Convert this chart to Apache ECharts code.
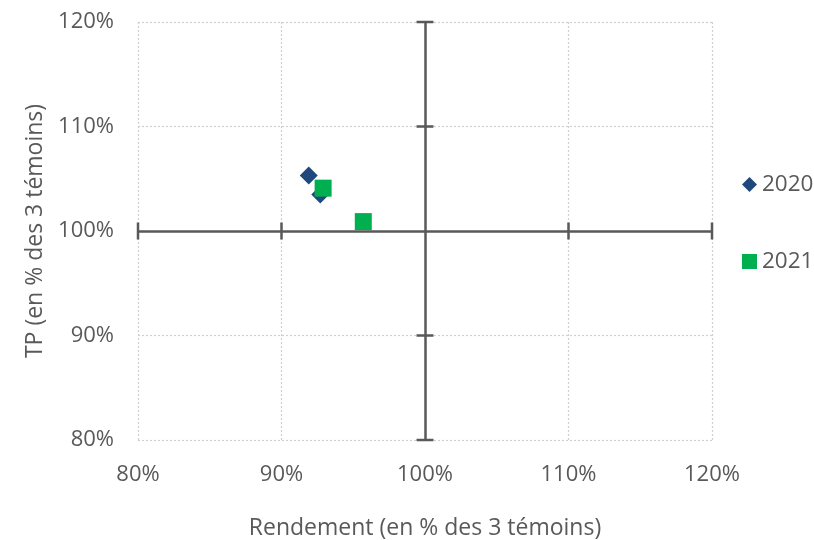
<!DOCTYPE html>
<html><head><meta charset="utf-8">
<script src="https://cdn.jsdelivr.net/npm/echarts@6/dist/echarts.min.js"></script>
<style>html,body{margin:0;padding:0;background:#fff}#c{width:814px;height:540px}</style>
</head><body><div id="c"></div>
<script>
const series2020 = [[91.9, 105.3], [92.7, 103.5]];
const series2021 = [[92.9, 104.1], [95.7, 100.9]];
const xTicks = [80, 90, 110, 120];
const yTicks = [80, 90, 110, 120];
const crossX = 100, crossY = 100;
const xName = 'Rendement (en % des 3 témoins)';
const yName = 'TP (en % des 3 témoins)';

const axisColor = '#595959';
const font = 'Open Sans';
const tickData = xTicks.map(v => ({value: [v, crossY], symbolSize: [2.5, 17]}))
  .concat(yTicks.map(v => ({value: [crossX, v], symbolSize: [17, 2.5]})));

const chart = echarts.init(document.getElementById('c'));
const axisCommon = {
  type: 'value', min: 80, max: 120, interval: 10,
  axisLine: {show: false}, axisTick: {show: false},
  splitLine: {show: true, lineStyle: {color: '#d0d0d0', type: [2, 2], width: 1.2}},
  axisLabel: {formatter: '{value}%', color: axisColor, fontSize: 22, fontFamily: font},
  nameLocation: 'middle',
  nameTextStyle: {color: axisColor, fontSize: 23, fontFamily: font}
};
chart.setOption({
  animation: false,
  grid: {left: 138, right: 102, top: 22, bottom: 100, containLabel: false, outerBoundsMode: 'none'},
  legend: {
    orient: 'vertical', left: 737, top: 168, itemGap: 54,
    itemWidth: 15, itemHeight: 15, itemStyle: {opacity: 1},
    textStyle: {color: axisColor, fontSize: 22.5, fontFamily: font},
    data: [{name: '2020', icon: 'diamond'}, {name: '2021', icon: 'rect'}]
  },
  xAxis: Object.assign({}, axisCommon, {name: xName, nameGap: 77,
    axisLabel: Object.assign({}, axisCommon.axisLabel, {margin: 24})}),
  yAxis: Object.assign({}, axisCommon, {name: yName, nameGap: 82,
    axisLabel: Object.assign({}, axisCommon.axisLabel, {margin: 24})}),
  series: [
    {
      name: 'axes', type: 'scatter', silent: true, symbol: 'rect', z: 1,
      itemStyle: {color: axisColor, opacity: 1}, data: tickData,
      markLine: {
        silent: true, symbol: 'none', label: {show: false},
        lineStyle: {color: axisColor, type: 'solid', width: 2.5, opacity: 1},
        data: [{xAxis: crossX}, {yAxis: crossY}]
      }
    },
    {name: '2020', type: 'scatter', symbol: 'diamond', symbolSize: 18, z: 3,
      itemStyle: {color: '#1f497d', opacity: 1}, data: series2020},
    {name: '2021', type: 'scatter', symbol: 'rect', symbolSize: 17, z: 4,
      itemStyle: {color: '#00b050', opacity: 1}, data: series2021}
  ]
});
</script></body></html>
